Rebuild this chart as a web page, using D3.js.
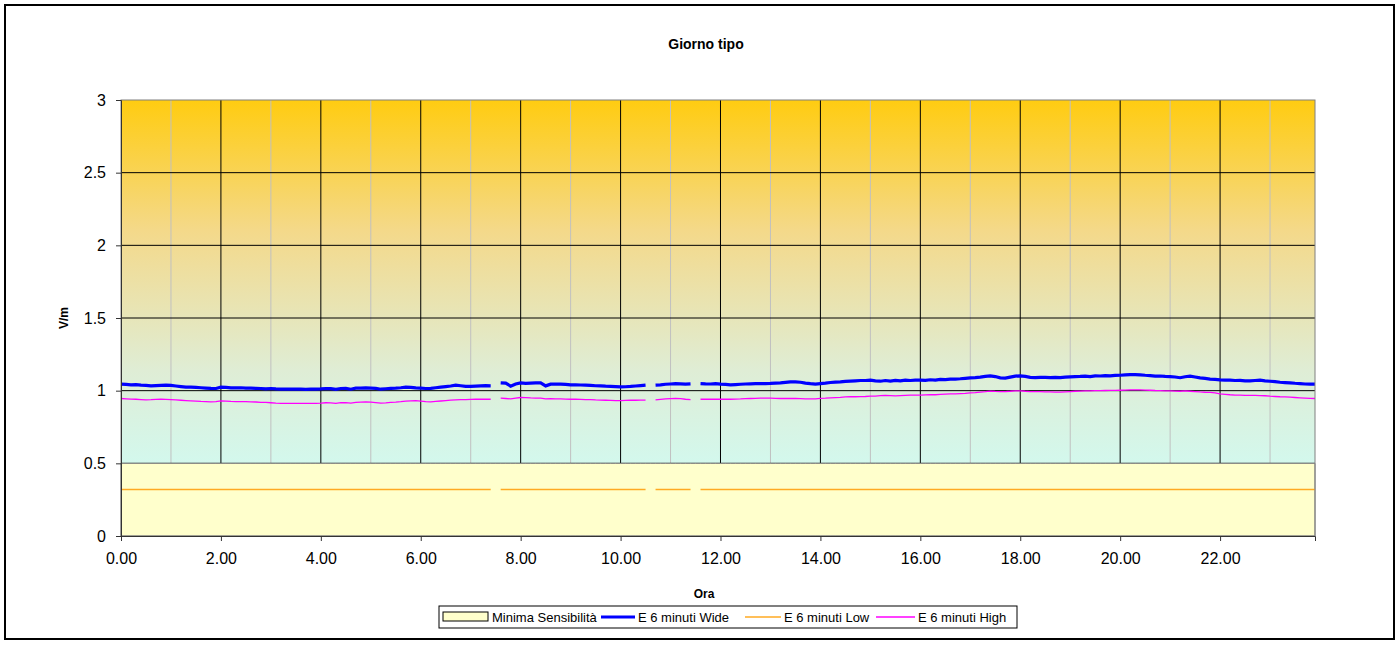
<!DOCTYPE html>
<html>
<head>
<meta charset="utf-8">
<script src="https://d3js.org/d3.v7.min.js"></script>
<style>
  body { margin: 0; background: #fff; }
  text { font-family: "Liberation Sans", Arial, sans-serif; }
</style>
</head>
<body>
<script>

// one value every 6 minutes, 0.0 .. 23.9 h  (null = missing sample)
var hours = d3.range(240).map(function(i){ return i / 10; });

var wide = [
  1.045,1.043,1.040,1.041,1.038,1.036,1.033,1.035,1.037,1.038,
  1.036,1.032,1.028,1.024,1.024,1.022,1.020,1.018,1.016,1.015,
  1.024,1.022,1.019,1.019,1.020,1.018,1.017,1.016,1.015,1.012,
  1.015,1.012,1.010,1.010,1.011,1.010,1.010,1.009,1.010,1.010,
  1.012,1.015,1.014,1.009,1.015,1.016,1.010,1.017,1.018,1.019,
  1.018,1.016,1.010,1.013,1.016,1.017,1.020,1.024,1.022,1.019,
  1.017,1.015,1.016,1.020,1.024,1.028,1.032,1.038,1.034,1.030,
  1.029,1.031,1.033,1.034,1.033,null,1.054,1.052,1.031,1.046,
  1.054,1.050,1.052,1.054,1.054,1.033,1.045,1.046,1.045,1.043,
  1.040,1.040,1.039,1.038,1.036,1.034,1.033,1.031,1.030,1.028,
  1.026,1.027,1.029,1.032,1.035,1.038,null,1.038,1.040,1.044,
  1.046,1.048,1.047,1.045,1.047,null,1.049,1.047,1.046,1.049,
  1.045,1.043,1.040,1.042,1.044,1.046,1.047,1.048,1.049,1.049,
  1.050,1.052,1.054,1.057,1.060,1.061,1.058,1.052,1.048,1.045,
  1.049,1.052,1.056,1.059,1.061,1.064,1.066,1.068,1.070,1.070,
  1.072,1.067,1.065,1.070,1.066,1.071,1.068,1.072,1.070,1.072,
  1.073,1.071,1.075,1.073,1.077,1.076,1.079,1.080,1.082,1.085,
  1.088,1.090,1.093,1.098,1.102,1.097,1.088,1.086,1.093,1.100,
  1.102,1.098,1.092,1.090,1.091,1.092,1.090,1.091,1.090,1.093,
  1.095,1.097,1.098,1.100,1.097,1.102,1.101,1.104,1.102,1.105,
  1.106,1.108,1.110,1.111,1.109,1.106,1.104,1.100,1.101,1.098,
  1.096,1.094,1.089,1.096,1.100,1.094,1.088,1.084,1.080,1.078,
  1.074,1.072,1.072,1.070,1.071,1.068,1.067,1.070,1.072,1.068,
  1.065,1.062,1.058,1.056,1.054,1.051,1.049,1.046,1.045,1.045
];

var high = [
  0.946,0.944,0.942,0.941,0.939,0.937,0.938,0.940,0.941,0.940,
  0.938,0.936,0.934,0.932,0.930,0.928,0.926,0.925,0.923,0.924,
  0.930,0.928,0.926,0.925,0.924,0.924,0.923,0.922,0.920,0.919,
  0.917,0.914,0.912,0.912,0.912,0.912,0.912,0.912,0.912,0.912,
  0.914,0.917,0.916,0.913,0.917,0.918,0.914,0.919,0.921,0.923,
  0.921,0.918,0.914,0.916,0.919,0.921,0.924,0.928,0.930,0.931,
  0.928,0.924,0.923,0.926,0.929,0.932,0.935,0.937,0.938,0.939,
  0.940,0.941,0.942,0.941,0.941,null,0.948,0.946,0.943,0.948,
  0.953,0.952,0.950,0.949,0.948,0.944,0.945,0.944,0.943,0.942,
  0.941,0.941,0.940,0.939,0.938,0.936,0.935,0.934,0.933,0.932,
  0.932,0.933,0.934,0.934,0.935,0.935,null,0.937,0.940,0.943,
  0.945,0.946,0.945,0.941,0.939,null,0.941,0.941,0.941,0.941,
  0.941,0.941,0.941,0.942,0.943,0.945,0.946,0.947,0.948,0.948,
  0.948,0.947,0.946,0.946,0.946,0.946,0.945,0.944,0.944,0.944,
  0.947,0.948,0.950,0.952,0.954,0.957,0.958,0.958,0.959,0.960,
  0.962,0.963,0.966,0.967,0.966,0.964,0.966,0.968,0.969,0.969,
  0.970,0.971,0.972,0.972,0.974,0.976,0.978,0.978,0.980,0.982,
  0.985,0.987,0.990,0.993,0.997,0.995,0.994,0.994,0.996,0.999,
  0.999,0.996,0.994,0.993,0.993,0.992,0.991,0.990,0.990,0.992,
  0.994,0.996,0.997,0.998,0.999,1.000,1.000,1.001,1.002,1.002,
  1.003,1.004,1.005,1.006,1.005,1.004,1.003,1.001,1.000,0.999,
  0.998,0.997,0.996,0.998,0.996,0.994,0.991,0.989,0.988,0.985,
  0.978,0.975,0.972,0.970,0.969,0.968,0.967,0.967,0.966,0.965,
  0.962,0.960,0.958,0.957,0.955,0.953,0.951,0.949,0.947,0.946
];

var low = [
  0.32,0.32,0.32,0.32,0.32,0.32,0.32,0.32,0.32,0.32,0.32,0.32,0.32,0.32,0.32,0.32,0.32,0.32,0.32,0.32,
  0.32,0.32,0.32,0.32,0.32,0.32,0.32,0.32,0.32,0.32,0.32,0.32,0.32,0.32,0.32,0.32,0.32,0.32,0.32,0.32,
  0.32,0.32,0.32,0.32,0.32,0.32,0.32,0.32,0.32,0.32,0.32,0.32,0.32,0.32,0.32,0.32,0.32,0.32,0.32,0.32,
  0.32,0.32,0.32,0.32,0.32,0.32,0.32,0.32,0.32,0.32,0.32,0.32,0.32,0.32,0.32,null,0.32,0.32,0.32,0.32,
  0.32,0.32,0.32,0.32,0.32,0.32,0.32,0.32,0.32,0.32,0.32,0.32,0.32,0.32,0.32,0.32,0.32,0.32,0.32,0.32,
  0.32,0.32,0.32,0.32,0.32,0.32,null,0.32,0.32,0.32,0.32,0.32,0.32,0.32,0.32,null,0.32,0.32,0.32,0.32,
  0.32,0.32,0.32,0.32,0.32,0.32,0.32,0.32,0.32,0.32,0.32,0.32,0.32,0.32,0.32,0.32,0.32,0.32,0.32,0.32,
  0.32,0.32,0.32,0.32,0.32,0.32,0.32,0.32,0.32,0.32,0.32,0.32,0.32,0.32,0.32,0.32,0.32,0.32,0.32,0.32,
  0.32,0.32,0.32,0.32,0.32,0.32,0.32,0.32,0.32,0.32,0.32,0.32,0.32,0.32,0.32,0.32,0.32,0.32,0.32,0.32,
  0.32,0.32,0.32,0.32,0.32,0.32,0.32,0.32,0.32,0.32,0.32,0.32,0.32,0.32,0.32,0.32,0.32,0.32,0.32,0.32,
  0.32,0.32,0.32,0.32,0.32,0.32,0.32,0.32,0.32,0.32,0.32,0.32,0.32,0.32,0.32,0.32,0.32,0.32,0.32,0.32,
  0.32,0.32,0.32,0.32,0.32,0.32,0.32,0.32,0.32,0.32,0.32,0.32,0.32,0.32,0.32,0.32,0.32,0.32,0.32,0.32
];

var minima = [
  0.5,0.5,0.5,0.5,0.5,0.5,0.5,0.5,0.5,0.5,0.5,0.5,0.5,0.5,0.5,0.5,0.5,0.5,0.5,0.5,
  0.5,0.5,0.5,0.5,0.5,0.5,0.5,0.5,0.5,0.5,0.5,0.5,0.5,0.5,0.5,0.5,0.5,0.5,0.5,0.5,
  0.5,0.5,0.5,0.5,0.5,0.5,0.5,0.5,0.5,0.5,0.5,0.5,0.5,0.5,0.5,0.5,0.5,0.5,0.5,0.5,
  0.5,0.5,0.5,0.5,0.5,0.5,0.5,0.5,0.5,0.5,0.5,0.5,0.5,0.5,0.5,0.5,0.5,0.5,0.5,0.5,
  0.5,0.5,0.5,0.5,0.5,0.5,0.5,0.5,0.5,0.5,0.5,0.5,0.5,0.5,0.5,0.5,0.5,0.5,0.5,0.5,
  0.5,0.5,0.5,0.5,0.5,0.5,0.5,0.5,0.5,0.5,0.5,0.5,0.5,0.5,0.5,0.5,0.5,0.5,0.5,0.5,
  0.5,0.5,0.5,0.5,0.5,0.5,0.5,0.5,0.5,0.5,0.5,0.5,0.5,0.5,0.5,0.5,0.5,0.5,0.5,0.5,
  0.5,0.5,0.5,0.5,0.5,0.5,0.5,0.5,0.5,0.5,0.5,0.5,0.5,0.5,0.5,0.5,0.5,0.5,0.5,0.5,
  0.5,0.5,0.5,0.5,0.5,0.5,0.5,0.5,0.5,0.5,0.5,0.5,0.5,0.5,0.5,0.5,0.5,0.5,0.5,0.5,
  0.5,0.5,0.5,0.5,0.5,0.5,0.5,0.5,0.5,0.5,0.5,0.5,0.5,0.5,0.5,0.5,0.5,0.5,0.5,0.5,
  0.5,0.5,0.5,0.5,0.5,0.5,0.5,0.5,0.5,0.5,0.5,0.5,0.5,0.5,0.5,0.5,0.5,0.5,0.5,0.5,
  0.5,0.5,0.5,0.5,0.5,0.5,0.5,0.5,0.5,0.5,0.5,0.5,0.5,0.5,0.5,0.5,0.5,0.5,0.5,0.5
];

var xTicks = [0,2,4,6,8,10,12,14,16,18,20,22];
var xMinor = [1,3,5,7,9,11,13,15,17,19,21,23];
var yTicks = [0,0.5,1,1.5,2,2.5,3];
var seriesNames = ["Minima Sensibilità","E 6 minuti Wide","E 6 minuti Low","E 6 minuti High"];

var W = 1400, H = 646;
var pL = 121, pR = 1315, pT = 100, pB = 536;

var svg = d3.select("body").append("svg")
  .attr("width", W).attr("height", H);

// outer frame
svg.append("rect").attr("x",5).attr("y",5).attr("width",1389).attr("height",634)
  .attr("fill","#fff").attr("stroke","#000").attr("stroke-width",2);

var x = d3.scaleLinear().domain([0, 23.9]).range([pL, pR]);
var y = d3.scaleLinear().domain([0, 3]).range([pB, pT]);

var grad = svg.append("defs").append("linearGradient")
  .attr("id","bg").attr("x1",0).attr("y1",0).attr("x2",0).attr("y2",1);
grad.append("stop").attr("offset","0%").attr("stop-color","#ffcc11");
grad.append("stop").attr("offset","30%").attr("stop-color","#f4d98a");
grad.append("stop").attr("offset","62%").attr("stop-color","#dfedd5");
grad.append("stop").attr("offset","85%").attr("stop-color","#d2f9ef");
grad.append("stop").attr("offset","100%").attr("stop-color","#ccffff");

svg.append("rect").attr("x",pL).attr("y",pT)
  .attr("width",pR-pL).attr("height",pB-pT).attr("fill","url(#bg)");

// gridlines
svg.selectAll(".vminor").data(xMinor).enter().append("line")
  .attr("x1",function(d){return x(d);}).attr("x2",function(d){return x(d);})
  .attr("y1",pT).attr("y2",pB).attr("stroke","#c0c0c0").attr("stroke-width",1);
svg.selectAll(".vmajor").data(xTicks.slice(1)).enter().append("line")
  .attr("x1",function(d){return x(d);}).attr("x2",function(d){return x(d);})
  .attr("y1",pT).attr("y2",pB).attr("stroke","#000").attr("stroke-width",1);
svg.selectAll(".hgrid").data(yTicks.slice(1,-1)).enter().append("line")
  .attr("x1",pL).attr("x2",pR)
  .attr("y1",function(d){return y(d);}).attr("y2",function(d){return y(d);})
  .attr("stroke","#000").attr("stroke-width",1);

// area series
var area = d3.area()
  .x(function(d,i){return x(hours[i]);})
  .y0(y(0)).y1(function(d){return y(d);});
svg.append("path").datum(minima).attr("d",area)
  .attr("fill","#ffffcc").attr("stroke","#808080").attr("stroke-width",1);

var line = d3.line()
  .defined(function(d){return d != null;})
  .x(function(d,i){return x(hours[i]);})
  .y(function(d){return y(d);});

svg.append("path").datum(low).attr("d",line)
  .attr("fill","none").attr("stroke","#ffaa22").attr("stroke-width",1.4);
svg.append("path").datum(high).attr("d",line)
  .attr("fill","none").attr("stroke","#ff00ff").attr("stroke-width",1.3);
svg.append("path").datum(wide).attr("d",line)
  .attr("fill","none").attr("stroke","#0000ff").attr("stroke-width",3.2);

// plot border
svg.append("rect").attr("x",pL).attr("y",pT)
  .attr("width",pR-pL).attr("height",pB-pT)
  .attr("fill","none").attr("stroke","#808080").attr("stroke-width",1);

// axes
var xAxis = svg.append("g").attr("transform","translate(0,"+pB+")")
  .call(d3.axisBottom(x).tickValues(xTicks).tickFormat(d3.format(".2f")).tickSize(5).tickPadding(12));
var yAxis = svg.append("g").attr("transform","translate("+pL+",0)")
  .call(d3.axisLeft(y).tickValues(yTicks).tickFormat(function(d){return d;}).tickSize(5).tickPadding(10));
[xAxis, yAxis].forEach(function(a){
  a.select(".domain").attr("stroke","#333");
  a.selectAll(".tick line").attr("stroke","#333");
  a.selectAll("text").attr("font-size",16).attr("fill","#000")
    .attr("font-family","'Liberation Sans', Arial, sans-serif");
});

// titles
svg.append("text").attr("x",706).attr("y",49).attr("text-anchor","middle")
  .attr("font-size",14).attr("font-weight","bold").text("Giorno tipo");
svg.append("text").attr("x",704).attr("y",598).attr("text-anchor","middle")
  .attr("font-size",12).attr("font-weight","bold").text("Ora");
svg.append("text").attr("transform","translate(68,318) rotate(-90)").attr("text-anchor","middle")
  .attr("font-size",12).attr("font-weight","bold").text("V/m");

// legend
var lg = svg.append("g");
lg.append("rect").attr("x",439).attr("y",606).attr("width",578).attr("height",22)
  .attr("fill","#fff").attr("stroke","#000").attr("stroke-width",1);
var items = [
  {name: seriesNames[0], type:"box",  color:"#ffffcc", sx:443, sw:45, tx:492},
  {name: seriesNames[1], type:"line", color:"#0000ff", sx:601, sw:34, tx:638, w:3},
  {name: seriesNames[2], type:"line", color:"#ffaa22", sx:745, sw:36, tx:784, w:1.3},
  {name: seriesNames[3], type:"line", color:"#ff00ff", sx:876, sw:39, tx:918, w:1.3}
];
items.forEach(function(it){
  if (it.type == "box") {
    lg.append("rect").attr("x",it.sx).attr("y",612).attr("width",it.sw).attr("height",9)
      .attr("fill",it.color).attr("stroke","#000").attr("stroke-width",1);
  } else {
    lg.append("line").attr("x1",it.sx).attr("x2",it.sx+it.sw).attr("y1",617).attr("y2",617)
      .attr("stroke",it.color).attr("stroke-width",it.w);
  }
  lg.append("text").attr("x",it.tx).attr("y",621.5).attr("font-size",13).text(it.name);
});

</script>
</body>
</html>
